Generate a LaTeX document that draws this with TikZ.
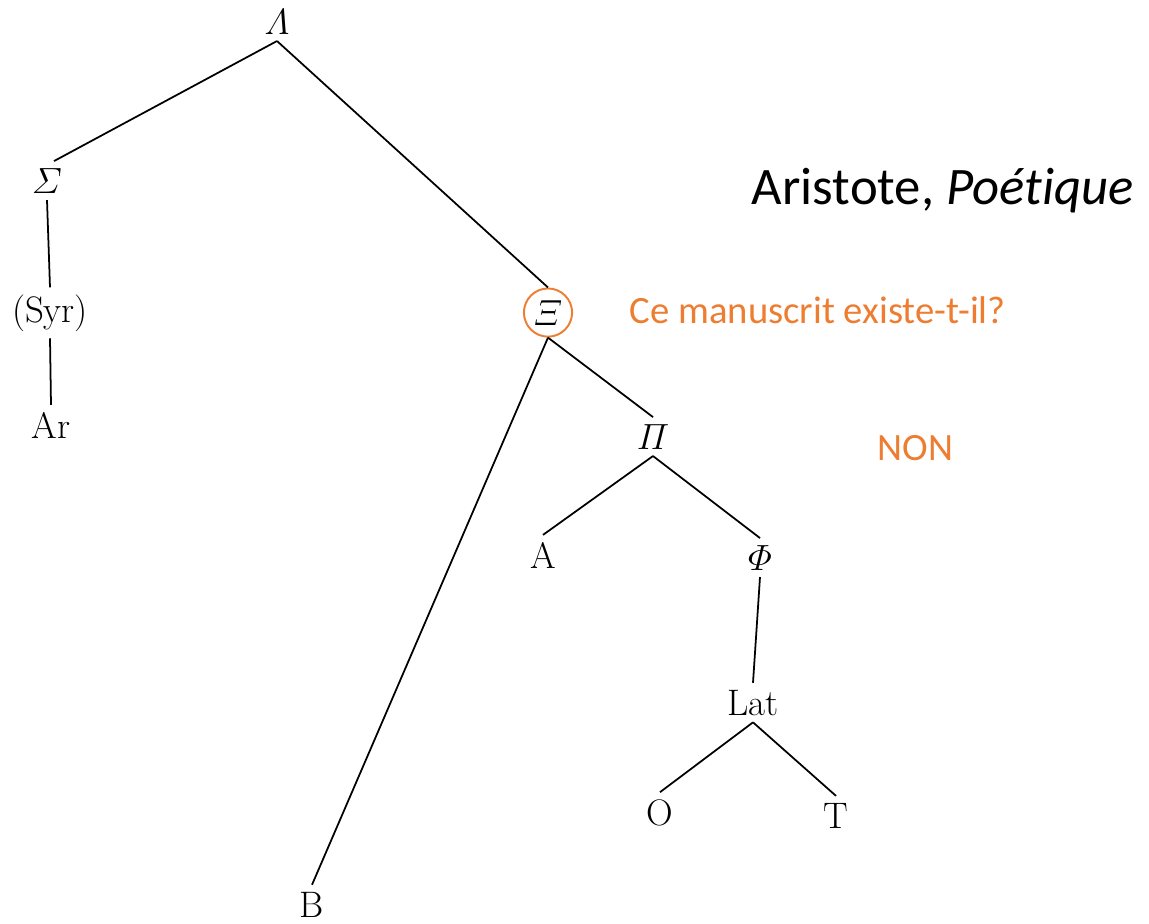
\documentclass[tikz,border=0pt]{standalone}
\usepackage{fontspec}
\newfontfamily\calibri[Ligatures=NoCommon]{Carlito}
\definecolor{orangeoffice}{RGB}{237,125,49}

\begin{document}
\begin{tikzpicture}[x=0.02cm,y=-0.02cm,line width=1pt,
  ms/.style={anchor=base,inner sep=3.5pt,font=\fontsize{21}{25}\selectfont},
  note/.style={anchor=base west,inner sep=0pt,font=\calibri\fontsize{22}{26}\selectfont}]
\useasboundingbox (0,0) rectangle (1149,923);

% stemma codicum
\begin{scope}
\node[ms] (lambda) at (277,34) {$\mathnormal{\Lambda}$};
\node[ms] (sigma) at (47,193) {$\mathnormal{\Sigma}$};
\node[ms] (syr) at (50,322) {(Syr)};
\node[ms] (ar) at (51,438) {Ar};
\node[ms,circle,draw=orangeoffice,line width=1.1pt,inner sep=2pt,minimum size=26pt] (xi) at (548,325) {$\mathnormal{\Xi}$};
\node[ms] (b) at (312,917) {B};
\node[ms] (pi) at (653,449) {$\mathnormal{\Pi}$};
\node[ms] (a) at (543,568) {A};
\node[ms] (phi) at (760,570) {$\mathnormal{\Phi}$};
\node[ms] (lat) at (753,715) {Lat};
\node[ms] (o) at (660,825) {O};
\node[ms] (t) at (836,828) {T};

\draw (lambda.south) -- ([xshift=4pt]sigma.north);
\draw (lambda.south) -- (xi.north);
\draw (sigma.south) -- (syr.north);
\draw (syr.south) -- (ar.north);
\draw (xi.south) -- (b.north);
\draw (xi.south) -- (pi.north);
\draw (pi.south) -- (a.north);
\draw (pi.south) -- (phi.north);
\draw (phi.south) -- (lat.north);
\draw (lat.south) -- (o.north);
\draw (lat.south) -- (t.north);
\end{scope}

% remarques
\node[note,font=\calibri\fontsize{30}{36}\selectfont] (titre) at (751,204) {Aristote, \textit{Poétique}};
\node[note,text=orangeoffice] (question) at (629,323) {Ce manuscrit existe-t-il?};
\node[note,text=orangeoffice] (reponse) at (877,460) {NON};

\end{tikzpicture}
\end{document}
